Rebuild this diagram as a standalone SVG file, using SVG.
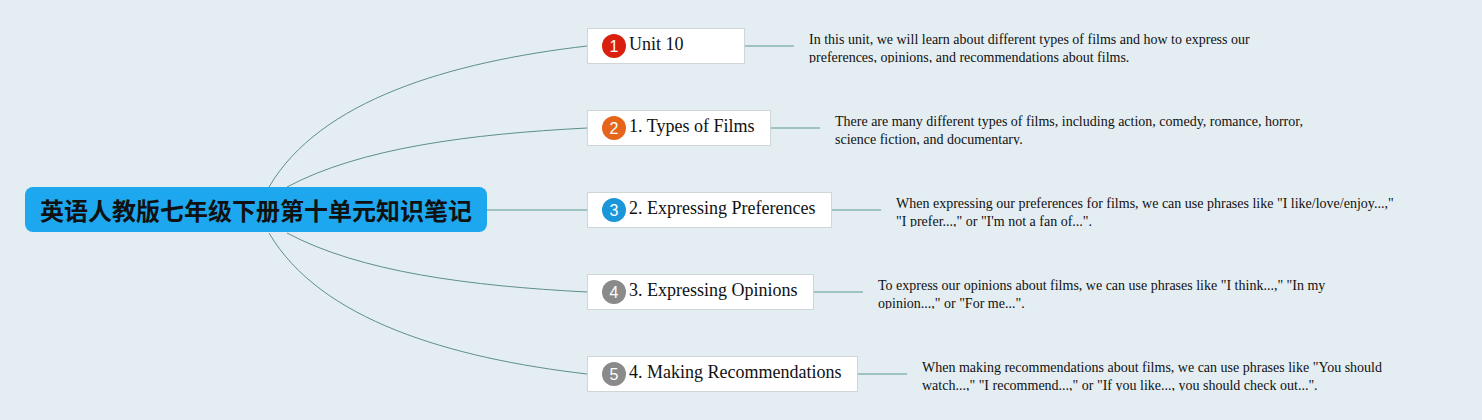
<svg xmlns="http://www.w3.org/2000/svg" width="1482" height="420" viewBox="0 0 1482 420">
<style>
.bg{fill:#e4edf2}
.curve{fill:none;stroke:#5e8f8a;stroke-width:1}
.link{fill:none;stroke:#9fc3bf;stroke-width:2}
.box{fill:#ffffff;stroke:#cfd6da;stroke-width:1}
.title{font-family:"Liberation Serif",serif;font-size:18px;fill:#111}
.num{font-family:"Liberation Sans",sans-serif;font-size:16px;fill:#fff;text-anchor:middle}
.desc{font-family:"Liberation Serif",serif;font-size:14px;fill:#111}
.root-text{font-family:"Noto Sans CJK SC",sans-serif;font-size:24px;font-weight:bold;fill:#111;text-anchor:middle}
</style>
<defs>
<clipPath id="c1"><rect x="800" y="28" width="600" height="35"/></clipPath>
<clipPath id="c2"><rect x="820" y="110" width="600" height="35"/></clipPath>
<clipPath id="c3"><rect x="880" y="192" width="600" height="35"/></clipPath>
<clipPath id="c4"><rect x="860" y="274" width="600" height="35"/></clipPath>
<clipPath id="c5"><rect x="900" y="356" width="600" height="35"/></clipPath>
</defs>
<rect class="bg" x="0" y="0" width="1482" height="420"/>
<g id="connectors">
<path class="curve" d="M269,187 C320,100 450,62 587,46"/>
<path class="curve" d="M287,187 C360,148 470,134 587,128"/>
<path class="link" d="M487,210 L587,210"/>
<path class="curve" d="M287,233 C360,272 470,286 587,292"/>
<path class="curve" d="M269,233 C320,320 450,358 587,374"/>
<path class="link" d="M744,46 L794,46"/>
<path class="link" d="M770,128 L820,128"/>
<path class="link" d="M831,210 L881,210"/>
<path class="link" d="M813,292 L863,292"/>
<path class="link" d="M857,374 L907,374"/>
</g>
<g id="root">
<rect x="25" y="187" width="462" height="45" rx="8" fill="#1da7ef"/>
<text class="root-text" x="256" y="220">英语人教版七年级下册第十单元知识笔记</text>
</g>
<g id="node1">
<rect class="box" x="587.5" y="28.5" width="157" height="35"/>
<circle cx="614" cy="46" r="12" fill="#d9200f"/>
<text class="num" x="614" y="52">1</text>
<text class="title" x="629" y="50">Unit 10</text>
</g>
<g id="desc1" clip-path="url(#c1)">
<text class="desc" x="809" y="44">In this unit, we will learn about different types of films and how to express our</text>
<text class="desc" x="809" y="62">preferences, opinions, and recommendations about films.</text>
</g>
<g id="node2">
<rect class="box" x="587.5" y="110.5" width="183" height="35"/>
<circle cx="614" cy="128" r="12" fill="#e5661a"/>
<text class="num" x="614" y="134">2</text>
<text class="title" x="629" y="132">1. Types of Films</text>
</g>
<g id="desc2" clip-path="url(#c2)">
<text class="desc" x="835" y="126">There are many different types of films, including action, comedy, romance, horror,</text>
<text class="desc" x="835" y="144">science fiction, and documentary.</text>
</g>
<g id="node3">
<rect class="box" x="587.5" y="192.5" width="244" height="35"/>
<circle cx="614" cy="210" r="12" fill="#1b96da"/>
<text class="num" x="614" y="216">3</text>
<text class="title" x="629" y="214">2. Expressing Preferences</text>
</g>
<g id="desc3" clip-path="url(#c3)">
<text class="desc" x="896" y="208">When expressing our preferences for films, we can use phrases like "I like/love/enjoy...,"</text>
<text class="desc" x="896" y="226">"I prefer...," or "I'm not a fan of...".</text>
</g>
<g id="node4">
<rect class="box" x="587.5" y="274.5" width="226" height="35"/>
<circle cx="614" cy="292" r="12" fill="#8a8a8a"/>
<text class="num" x="614" y="298">4</text>
<text class="title" x="629" y="296">3. Expressing Opinions</text>
</g>
<g id="desc4" clip-path="url(#c4)">
<text class="desc" x="878" y="290">To express our opinions about films, we can use phrases like "I think...," "In my</text>
<text class="desc" x="878" y="308">opinion...," or "For me...".</text>
</g>
<g id="node5">
<rect class="box" x="587.5" y="356.5" width="270" height="35"/>
<circle cx="614" cy="374" r="12" fill="#8a8a8a"/>
<text class="num" x="614" y="380">5</text>
<text class="title" x="629" y="378">4. Making Recommendations</text>
</g>
<g id="desc5" clip-path="url(#c5)">
<text class="desc" x="922" y="372">When making recommendations about films, we can use phrases like "You should</text>
<text class="desc" x="922" y="390">watch...," "I recommend...," or "If you like..., you should check out...".</text>
</g>
</svg>
